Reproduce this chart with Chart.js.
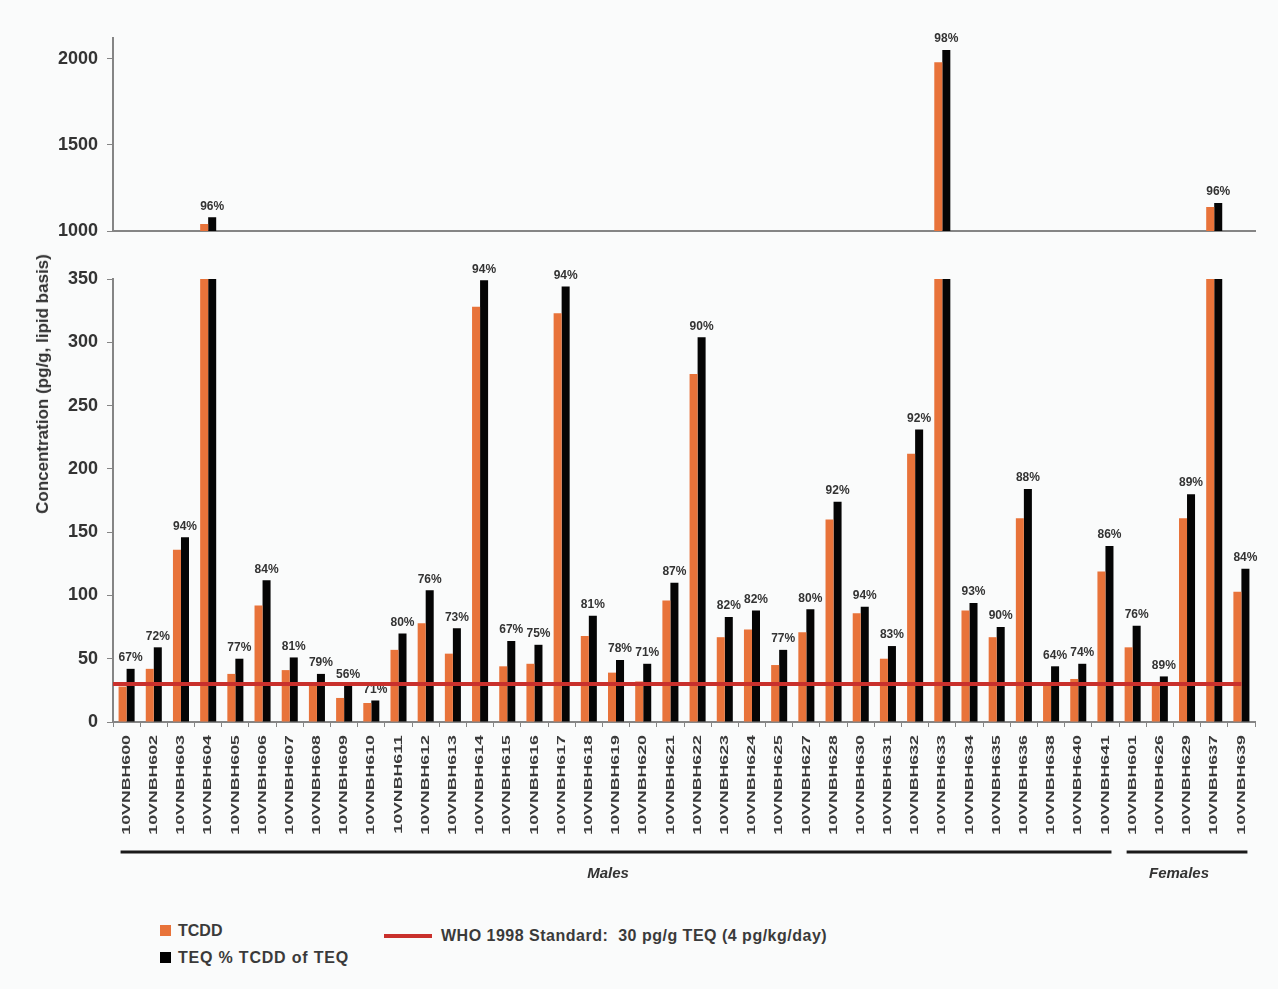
<!DOCTYPE html>
<html lang="en">
<head>
<meta charset="UTF-8">
<title>TCDD and TEQ concentrations</title>
<script src="https://cdn.jsdelivr.net/npm/chart.js"></script>
<style>
  body { margin: 0; background: #fff; font-family: "Liberation Sans", Arial, sans-serif; }
  .page { position: relative; width: 1278px; height: 989px; background: #fafbfb; overflow: hidden; }
  #topChart { position: absolute; left: 0; top: 0; }
  #bottomChart { position: absolute; left: 0; top: 240px; }
  .ytitle { position: absolute; left: 43px; top: 384px; transform: translate(-50%, -50%) rotate(-90deg);
            white-space: nowrap; font-weight: bold; font-size: 17px; color: #333; }
  .lg { position: absolute; font-weight: bold; font-size: 16px; color: #3a3a3a; white-space: nowrap; line-height: 16px; }
  .sw { position: absolute; width: 11px; height: 11px; }
</style>
</head>
<body>
<div class="page">
  <canvas id="topChart" width="1278" height="240"></canvas>
  <canvas id="bottomChart" width="1278" height="660"></canvas>
  <div class="ytitle">Concentration (pg/g, lipid basis)</div>

  <div class="sw" style="left:160px; top:925px; background:#e8733a;"></div>
  <div class="lg" style="left:178px; top:923px;">TCDD</div>
  <div class="sw" style="left:160px; top:952px; background:#000;"></div>
  <div class="lg" style="left:178px; top:950px; letter-spacing:0.8px;">TEQ % TCDD of TEQ</div>
  <div style="position:absolute; left:384px; top:934px; width:48px; height:4px; background:#c9302c;"></div>
  <div class="lg" style="left:441px; top:928px; letter-spacing:0.5px;">WHO 1998 Standard:&nbsp; 30 pg/g TEQ (4 pg/kg/day)</div>
</div>
<script>
    // data
    const categories = [
        '10VNBH600', '10VNBH602', '10VNBH603', '10VNBH604', '10VNBH605', '10VNBH606', '10VNBH607',
        '10VNBH608', '10VNBH609', '10VNBH610', '10VNBH611', '10VNBH612', '10VNBH613', '10VNBH614',
        '10VNBH615', '10VNBH616', '10VNBH617', '10VNBH618', '10VNBH619', '10VNBH620', '10VNBH621',
        '10VNBH622', '10VNBH623', '10VNBH624', '10VNBH625', '10VNBH627', '10VNBH628', '10VNBH630',
        '10VNBH631', '10VNBH632', '10VNBH633', '10VNBH634', '10VNBH635', '10VNBH636', '10VNBH638',
        '10VNBH640', '10VNBH641',
        '10VNBH601', '10VNBH626', '10VNBH629', '10VNBH637', '10VNBH639'
    ];
    const tcdd = [28, 42, 136, 1040, 38, 92, 41, 30, 19, 15, 57, 78, 54, 328, 44, 46, 323, 68, 39, 32, 96,
                  275, 67, 73, 45, 71, 160, 86, 50, 212, 1980, 88, 67, 161, 29, 34, 119,
                  59, 29, 161, 1140, 103];
    const teq = [42, 59, 146, 1080, 50, 112, 51, 38, 29, 17, 70, 104, 74, 349, 64, 61, 344, 84, 49, 46, 110,
                 304, 83, 88, 57, 89, 174, 91, 60, 231, 2050, 94, 75, 184, 44, 46, 139,
                 76, 36, 180, 1162, 121];
    const tcddShare = [67, 72, 94, 96, 77, 84, 81, 79, 56, 71, 80, 76, 73, 94, 67, 75, 94, 81, 78, 71, 87,
                       90, 82, 82, 77, 80, 92, 94, 83, 92, 98, 93, 90, 88, 64, 74, 86,
                       76, 89, 89, 96, 84];
    const groupNames = ['Males', 'Females'];
    const groupSizes = [37, 5];
    const whoStandard = 30;
    const lowerTicks = [0, 50, 100, 150, 200, 250, 300, 350];
    const upperTicks = [1000, 1500, 2000];

    const ORANGE = '#e8733a';
    const BLACK = '#050505';
    const RED = '#c9302c';
    const AXIS = '#858585';
    const FONT = '"Liberation Sans", Arial, sans-serif';

    function makeDatasets() {
        return [
            { label: 'TCDD', data: tcdd, backgroundColor: ORANGE, clip: 0,
              barPercentage: 1, categoryPercentage: 0.59 },
            { label: 'TEQ', data: teq, backgroundColor: BLACK, clip: 0,
              barPercentage: 1, categoryPercentage: 0.59 }
        ];
    }

    function yScale(min, max, tickList) {
        return {
            min: min, max: max,
            afterFit: function (s) { s.width = 113; s.paddingTop = 0; s.paddingBottom = 0; },
            afterBuildTicks: function (s) { s.ticks = tickList.map(v => ({ value: v })); },
            ticks: { color: '#333', padding: 9, font: { family: FONT, size: 18, weight: 'bold' },
                     callback: function (v) { return String(v); } },
            grid: { drawOnChartArea: false, drawTicks: true, tickLength: 6, color: AXIS },
            border: { display: true, color: AXIS, width: 2 }
        };
    }

    // percentage labels over the TEQ bars
    function shareLabels(show) {
        return {
            id: 'shareLabels',
            afterDatasetsDraw(chart) {
                const ctx = chart.ctx;
                const meta = chart.getDatasetMeta(1);
                ctx.save();
                ctx.font = 'bold 12px ' + FONT;
                ctx.fillStyle = '#333';
                ctx.textAlign = 'center';
                ctx.textBaseline = 'bottom';
                meta.data.forEach(function (bar, i) {
                    if (!show(teq[i])) return;
                    ctx.fillText(tcddShare[i] + '%', bar.x, bar.y - 5);
                });
                ctx.restore();
            }
        };
    }

    const bottomExtras = {
        id: 'bottomExtras',
        afterDatasetsDraw(chart) {
            const ctx = chart.ctx;
            const x = chart.scales.x, y = chart.scales.y;
            const area = chart.chartArea;
            // WHO standard line
            const yw = y.getPixelForValue(whoStandard);
            ctx.save();
            ctx.strokeStyle = RED;
            ctx.lineWidth = 4;
            ctx.beginPath();
            ctx.moveTo(area.left, yw);
            ctx.lineTo(x.getPixelForValue(categories.length - 1), yw);
            ctx.stroke();
            ctx.restore();
        },
        afterDraw(chart) {
            const ctx = chart.ctx;
            const x = chart.scales.x;
            const area = chart.chartArea;
            // category labels, narrow and tall
            ctx.save();
            ctx.font = 'bold 12px ' + FONT;
            ctx.fillStyle = '#3a3a3a';
            ctx.textAlign = 'right';
            ctx.textBaseline = 'middle';
            categories.forEach(function (c, i) {
                ctx.save();
                ctx.translate(x.getPixelForValue(i), area.bottom + 13);
                ctx.rotate(-Math.PI / 2);
                ctx.scale(1.48, 0.95);
                ctx.fillText(c, 0, 0);
                ctx.restore();
            });
            ctx.restore();

            // group brackets
            const m0 = chart.getDatasetMeta(0), m1 = chart.getDatasetMeta(1);
            let start = 0;
            ctx.save();
            ctx.strokeStyle = '#1a1a1a';
            ctx.lineWidth = 3;
            ctx.fillStyle = '#333';
            ctx.font = 'italic bold 15px ' + FONT;
            ctx.textAlign = 'center';
            ctx.textBaseline = 'middle';
            groupNames.forEach(function (name, g) {
                const end = start + groupSizes[g] - 1;
                const x0 = m0.data[start].x - m0.data[start].width / 2 + 2;
                const x1 = m1.data[end].x + m1.data[end].width / 2 - 2;
                const yl = area.bottom + 130;
                ctx.beginPath();
                ctx.moveTo(x0, yl);
                ctx.lineTo(x1, yl);
                ctx.stroke();
                ctx.fillText(name, (x0 + x1) / 2 - 8, yl + 22);
                start = end + 1;
            });
            ctx.restore();
        }
    };

    new Chart('topChart', {
        type: 'bar',
        data: { labels: categories, datasets: makeDatasets() },
        options: {
            responsive: false,
            animation: false,
            layout: { padding: { top: 38, bottom: 9, left: 0, right: 23 } },
            plugins: { legend: { display: false }, tooltip: { enabled: false } },
            scales: {
                x: {
                    afterFit: function (s) { s.height = 0; },
                    ticks: { display: false },
                    grid: { display: false },
                    border: { display: true, color: AXIS, width: 2 }
                },
                y: yScale(1000, 2120, upperTicks)
            }
        },
        plugins: [shareLabels(v => v > 1000)]
    });

    new Chart('bottomChart', {
        type: 'bar',
        data: { labels: categories, datasets: makeDatasets() },
        options: {
            responsive: false,
            animation: false,
            layout: { padding: { top: 39, bottom: 0, left: 0, right: 23 } },
            plugins: { legend: { display: false }, tooltip: { enabled: false } },
            scales: {
                x: {
                    afterFit: function (s) { s.height = 178; },
                    ticks: { display: false },
                    grid: { drawOnChartArea: false, drawTicks: true, tickLength: 5, offset: true, color: AXIS },
                    border: { display: true, color: AXIS, width: 2 }
                },
                y: yScale(0, 350, lowerTicks)
            }
        },
        plugins: [shareLabels(v => v <= 350), bottomExtras]
    });
</script>
</body>
</html>
